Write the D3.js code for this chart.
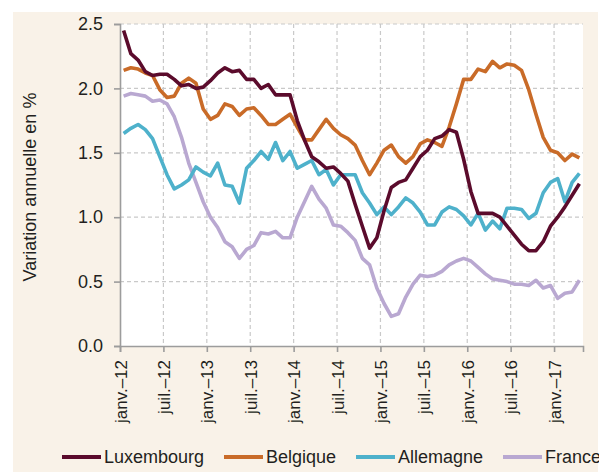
<!DOCTYPE html>
<html>
<head>
<meta charset="utf-8">
<script src="https://cdn.jsdelivr.net/npm/d3@7"></script>
<style>
  body { margin: 0; background: #fff; }
  svg text { font-family: "Liberation Sans", Arial, sans-serif; fill: #231f20; }
</style>
</head>
<body>
<div id="chart"></div>
<script>
(function(){
	var width = 599,
	    height = 472;

	// months janv.-12 .. avr.-17
	var tickLabels = ["janv.–12", "juil.–12", "janv.–13", "juil.–13", "janv.–14", "juil.–14",
	                  "janv.–15", "juil.–15", "janv.–16", "juil.–16", "janv.–17"];
	var yTicks = [0, 0.5, 1, 1.5, 2, 2.5];

	var luxembourg = [2.45, 2.27, 2.22, 2.13, 2.10, 2.11, 2.11, 2.07, 2.02, 2.03, 2.00, 2.01,
	                  2.06, 2.12, 2.16, 2.13, 2.14, 2.07, 2.07, 2.00, 2.03, 1.95, 1.95, 1.95,
	                  1.75, 1.60, 1.47, 1.43, 1.38, 1.39, 1.34, 1.28, 1.10, 0.93, 0.76, 0.84,
	                  1.05, 1.23, 1.27, 1.29, 1.38, 1.47, 1.52, 1.61, 1.63, 1.68, 1.66, 1.45,
	                  1.20, 1.03, 1.03, 1.03, 1.00, 0.93, 0.86, 0.79, 0.74, 0.74, 0.81, 0.93,
	                  1.00, 1.08, 1.17, 1.26];
	var belgique = [2.14, 2.16, 2.15, 2.12, 2.10, 1.99, 1.93, 1.94, 2.04, 2.08, 2.04, 1.84,
	                1.76, 1.79, 1.88, 1.86, 1.79, 1.84, 1.85, 1.79, 1.72, 1.72, 1.76, 1.80,
	                1.70, 1.60, 1.60, 1.68, 1.76, 1.69, 1.64, 1.61, 1.56, 1.44, 1.33, 1.42,
	                1.52, 1.56, 1.47, 1.42, 1.47, 1.57, 1.60, 1.58, 1.55, 1.70, 1.88, 2.07,
	                2.07, 2.15, 2.13, 2.21, 2.16, 2.19, 2.18, 2.14, 1.99, 1.80, 1.62, 1.52,
	                1.50, 1.44, 1.49, 1.46];
	var allemagne = [1.65, 1.69, 1.72, 1.68, 1.61, 1.47, 1.33, 1.22, 1.25, 1.29, 1.39, 1.35,
	                 1.32, 1.42, 1.25, 1.24, 1.11, 1.38, 1.44, 1.51, 1.45, 1.58, 1.44, 1.51,
	                 1.38, 1.41, 1.44, 1.33, 1.37, 1.25, 1.33, 1.33, 1.33, 1.19, 1.11, 1.02,
	                 1.08, 1.02, 1.08, 1.15, 1.11, 1.04, 0.94, 0.94, 1.04, 1.08, 1.06, 1.01,
	                 0.94, 1.03, 0.90, 0.97, 0.91, 1.07, 1.07, 1.06, 0.99, 1.03, 1.19, 1.27,
	                 1.30, 1.12, 1.27, 1.34];
	var france = [1.94, 1.96, 1.95, 1.94, 1.90, 1.91, 1.88, 1.78, 1.62, 1.42, 1.27, 1.12,
	              1.00, 0.92, 0.81, 0.77, 0.68, 0.75, 0.78, 0.88, 0.87, 0.89, 0.84, 0.84,
	              1.00, 1.12, 1.24, 1.14, 1.07, 0.94, 0.93, 0.88, 0.82, 0.68, 0.63, 0.45,
	              0.33, 0.23, 0.25, 0.38, 0.48, 0.55, 0.54, 0.55, 0.58, 0.63, 0.66, 0.68,
	              0.66, 0.61, 0.56, 0.52, 0.51, 0.50, 0.48, 0.48, 0.47, 0.51, 0.45, 0.47,
	              0.37, 0.41, 0.42, 0.51];

	var series = [
		{ name: "Luxembourg", values: luxembourg, color: "#5b0b2c", lx: 62 },
		{ name: "Belgique", values: belgique, color: "#c96b28", lx: 224 },
		{ name: "Allemagne", values: allemagne, color: "#4eb1cb", lx: 356 },
		{ name: "France", values: france, color: "#b9a8d1", lx: 503 }
	];

	var left = 120, right = 583, top = 24, bottom = 346;

	var svg = d3.select("#chart")
	  .append("svg")
	  .attr("width", width)
	  .attr("height", height)

	// cream panel
	svg.append("rect")
	  .attr("x", 13).attr("y", 12)
	  .attr("width", width - 14).attr("height", height - 12)
	  .attr("fill", "#f9f2e8")

	svg.append("rect")
	  .attr("x", left).attr("y", top)
	  .attr("width", right - left).attr("height", bottom - top)
	  .attr("fill", "#fff")

	// one band per month, points in the middle
	var x = d3.scaleLinear().domain([0, luxembourg.length]).range([left, right])
	var y = d3.scaleLinear().domain([0, 2.5]).range([bottom, top])

	var tickIdx = tickLabels.map(function(d, i) { return i * 6 })

	// grid
	svg.append("g")
	  .selectAll("line")
	  .data(yTicks.filter(function(d) { return d > 0 }))
	  .enter().append("line")
	  .attr("x1", left).attr("x2", right)
	  .attr("y1", function(d) { return y(d) })
	  .attr("y2", function(d) { return y(d) })
	  .attr("stroke", "#c9c9c9")
	  .attr("stroke-width", 1.2)
	  .attr("stroke-dasharray", "4,3")

	svg.append("g")
	  .selectAll("line")
	  .data(tickIdx.filter(function(d) { return d > 0 }))
	  .enter().append("line")
	  .attr("x1", function(d) { return x(d) })
	  .attr("x2", function(d) { return x(d) })
	  .attr("y1", top).attr("y2", bottom)
	  .attr("stroke", "#c9c9c9")
	  .attr("stroke-width", 1.2)
	  .attr("stroke-dasharray", "4,3")

	// axes
	var yAxis = svg.append("g")
	  .attr("transform", "translate(" + left + ",0)")
	  .call(d3.axisLeft(y).tickValues(yTicks).tickFormat(d3.format(".1f")).tickSize(6).tickPadding(11))

	var xAxis = svg.append("g")
	  .attr("transform", "translate(0," + bottom + ")")
	  .call(d3.axisBottom(x).tickValues(tickIdx).tickFormat(function(d) { return tickLabels[d / 6] }).tickSize(6))

	svg.selectAll(".domain, .tick line")
	  .attr("stroke", "#9c9c9c")
	  .attr("stroke-width", 1.6)

	yAxis.selectAll("text")
	  .style("font-size", "18px")
	  .attr("fill", "#231f20")

	xAxis.selectAll("text")
	  .style("font-size", "17px")
	  .attr("fill", "#231f20")
	  .attr("text-anchor", "end")
	  .attr("transform", "rotate(-90)")
	  .attr("x", -14)
	  .attr("y", 0)
	  .attr("dy", "0.36em")

	svg.append("text")
	  .attr("transform", "translate(36," + ((top + bottom) / 2 + 2) + ") rotate(-90)")
	  .attr("text-anchor", "middle")
	  .style("font-size", "18px")
	  .text("Variation annuelle en %")

	// lines
	var line = d3.line()
	  .x(function(d, i) { return x(i + 0.5) })
	  .y(function(d) { return y(d) })

	svg.append("g")
	  .selectAll("path")
	  .data(series.slice().reverse())
	  .enter().append("path")
	  .attr("d", function(d) { return line(d.values) })
	  .attr("fill", "none")
	  .attr("stroke", function(d) { return d.color })
	  .attr("stroke-width", 3.6)
	  .attr("stroke-linejoin", "round")

	// legend
	var legend = svg.append("g")
	  .selectAll("g")
	  .data(series)
	  .enter().append("g")
	  .attr("transform", function(d) { return "translate(" + d.lx + ",457)" })

	legend.append("line")
	  .attr("x1", 0).attr("x2", 39)
	  .attr("stroke", function(d) { return d.color })
	  .attr("stroke-width", 4)

	legend.append("text")
	  .attr("x", 42)
	  .attr("dy", "0.36em")
	  .style("font-size", "18px")
	  .text(function(d) { return d.name })
})();
</script>
</body>
</html>
